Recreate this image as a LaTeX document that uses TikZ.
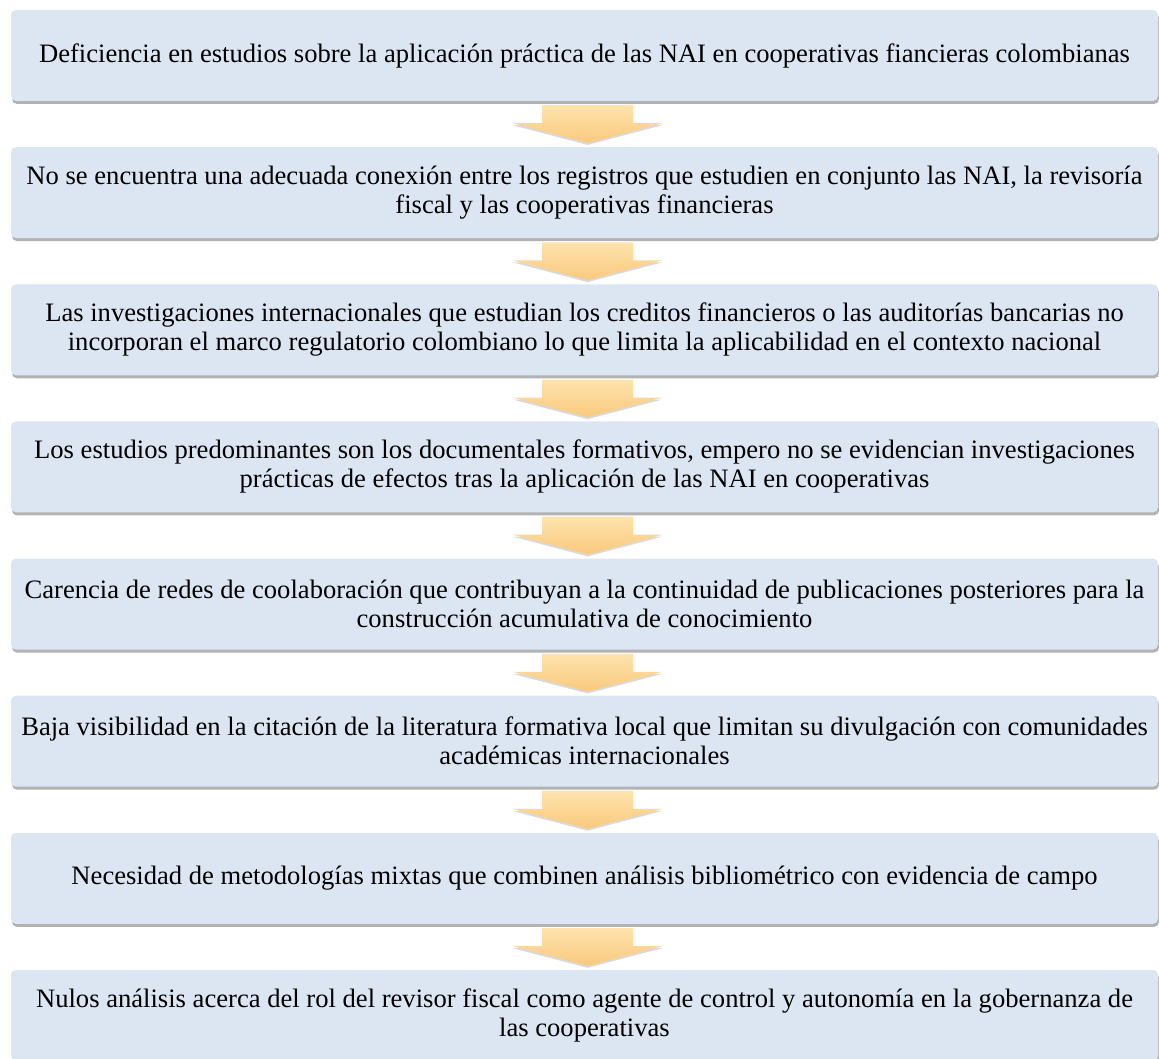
\documentclass[tikz,border=0pt]{standalone}
\usepackage{fontspec}
\setmainfont{Liberation Serif}
\usetikzlibrary{calc,shadows}
\definecolor{boxblue}{HTML}{DCE6F2}
\definecolor{arrtop}{HTML}{FFE3AD}
\definecolor{arrbot}{HTML}{F9C97D}
\tikzset{
  stepbox/.style={rectangle, rounded corners=5pt, fill=boxblue, draw=none,
    minimum width=1147pt, minimum height=91pt, inner sep=0pt, align=center,
    font=\fontsize{26.6}{29}\selectfont,
    drop shadow={shadow xshift=1pt, shadow yshift=-3pt, fill=black, opacity=0.3}},
  flowarrow/.style={draw=none, top color=arrtop, bottom color=arrbot,
    drop shadow={shadow xshift=0pt, shadow yshift=-2pt, fill=black, opacity=0.15}}
}
\newcommand{\flowarr}[2]{%
  \path[flowarrow]
    ($(#1.south)+(-42.5,4)$) -- ($(#1.south)+(48.5,4)$) --
    ($(#1.south)+(48.5,22)$) -- ($(#1.south)+(78,22)$) --
    ($(#2.north)+(3,-4)$) --
    ($(#1.south)+(-72,22)$) -- ($(#1.south)+(-42.5,22)$) -- cycle;}
\begin{document}
\begin{tikzpicture}[x=1pt,y=-1pt]
\useasboundingbox (0,0) rectangle (1159,1059);
\node[stepbox] (b1) at (584.5,55.5) {Deficiencia en estudios sobre la aplicación práctica de las NAI en cooperativas fiancieras colombianas};
\node[stepbox] (b2) at (584.5,192.6) {No se encuentra una adecuada conexión entre los registros que estudien en conjunto las NAI, la revisoría\\ fiscal y las cooperativas financieras};
\node[stepbox] (b3) at (584.5,329.8) {Las investigaciones internacionales que estudian los creditos financieros o las auditorías bancarias no\\ incorporan el marco regulatorio colombiano lo que limita la aplicabilidad en el contexto nacional};
\node[stepbox] (b4) at (584.5,466.9) {Los estudios predominantes son los documentales formativos, empero no se evidencian investigaciones\\ prácticas de efectos tras la aplicación de las NAI en cooperativas};
\node[stepbox] (b5) at (584.5,604.1) {Carencia de redes de coolaboración que contribuyan a la continuidad de publicaciones posteriores para la\\ construcción acumulativa de conocimiento};
\node[stepbox] (b6) at (584.5,741.2) {Baja visibilidad en la citación de la literatura formativa local que limitan su divulgación con comunidades\\ académicas internacionales};
\node[stepbox] (b7) at (584.5,878.4) {Necesidad de metodologías mixtas que combinen análisis bibliométrico con evidencia de campo};
\node[stepbox] (b8) at (584.5,1015.5) {Nulos análisis acerca del rol del revisor fiscal como agente de control y autonomía en la gobernanza de\\ las cooperativas};
\flowarr{b1}{b2}
\flowarr{b2}{b3}
\flowarr{b3}{b4}
\flowarr{b4}{b5}
\flowarr{b5}{b6}
\flowarr{b6}{b7}
\flowarr{b7}{b8}
\end{tikzpicture}
\end{document}
